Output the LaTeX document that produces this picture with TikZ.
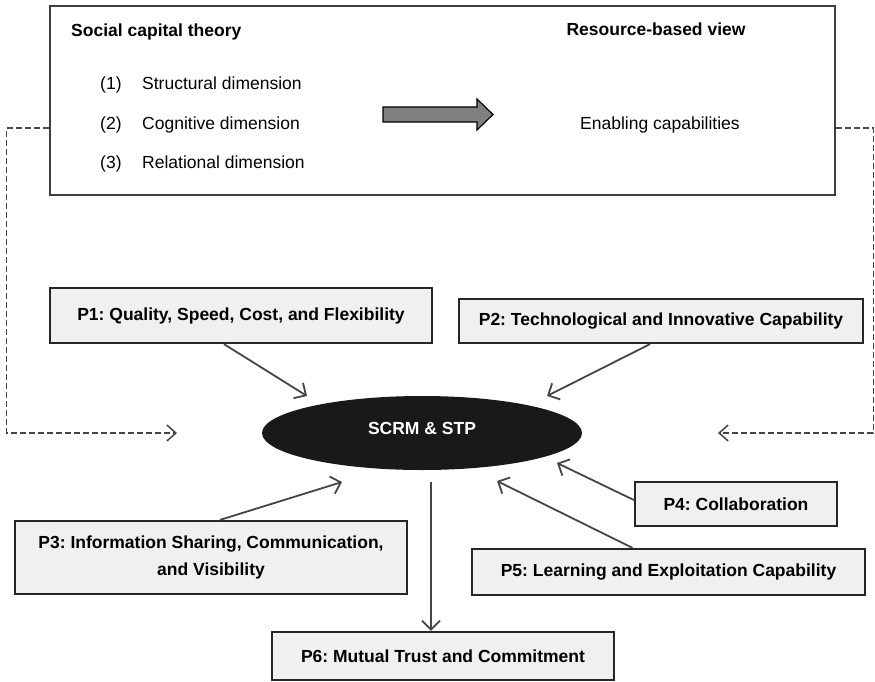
\documentclass[tikz,border=0pt]{standalone}
\usepackage{fontspec}
\setmainfont{Liberation Sans}
\usetikzlibrary{positioning,arrows.meta,shapes.geometric}
\definecolor{ink}{HTML}{454545}
\definecolor{pale}{HTML}{F0F0F0}
\definecolor{mid}{HTML}{808080}
\frenchspacing

\begin{document}
\begin{tikzpicture}[x=1pt,y=-1pt,
 font=\fontsize{17.5}{26.5}\selectfont,
 txt/.style={inner sep=0pt,anchor=base west},
 prop/.style={draw=black!85,line width=2.2pt,fill=pale,align=center,inner sep=0pt,
 font=\fontsize{17.5}{26.5}\selectfont\bfseries},
 arr/.style={-{Straight Barb[length=9pt,width=18pt]},line width=1.8pt,draw=ink},
 feed/.style={-{Straight Barb[length=9pt,width=16pt]},line width=1.5pt,draw=ink,
 dash pattern=on 6pt off 3pt}]
\useasboundingbox (0,0) rectangle (875,682);
% theory frame
\node[draw=black!75,line width=2.6pt,minimum width=785,minimum height=189,inner sep=0pt] (theory) at (442.5,100.5) {};
\node[txt,font=\fontsize{17.5}{21}\selectfont\bfseries] (sct) at (71,37) {Social capital theory};
\node[inner sep=0pt,anchor=base,font=\fontsize{17.5}{21}\selectfont\bfseries] (rbv) at (656,36) {Resource-based view};
\foreach \d [count=\i] in {Structural,Cognitive,Relational}{
 \node[txt] (num\i) at (100,51+39*\i) {(\i)};
 \node[txt] (dim\i) at (142,51+39*\i) {\d\ dimension};
}
\node[inner sep=0pt,anchor=base] (enable) at (660,130) {Enabling capabilities};
\draw[fill=mid,draw=black,line width=1.2pt] (383,107) -- ++(94,0) -- ++(0,-8) -- ++(16,15.5)
 -- ++(-16,15.5) -- ++(0,-8) -- ++(-94,0) -- cycle;
% propositions round the hub
\node[ellipse,fill=black!90,minimum width=320,minimum height=74,inner sep=0pt,text=white,
 font=\fontsize{17.5}{21}\selectfont\bfseries] (hub) at (422,433) {\raisebox{5pt}[\height][\depth]{SCRM \& STP}};
\node[prop,minimum width=382,minimum height=55] (p1) at (241,315.5) {P1: Quality, Speed, Cost, and Flexibility};
\node[prop,minimum width=404,minimum height=44] (p2) at (661,321) {P2: Technological and Innovative Capability};
\node[prop,minimum width=392,minimum height=73] (p3) at (211,557.5) {P3: Information Sharing, Communication,\\and Visibility};
\node[prop,minimum width=202,minimum height=44] (p4) at (736,504) {P4: Collaboration};
\node[prop,minimum width=393,minimum height=46] (p5) at (668.5,572) {P5: Learning and Exploitation Capability};
\node[prop,minimum width=342,minimum height=48] (p6) at (443,656) {P6: Mutual Trust and Commitment};
\draw[arr] ([xshift=-17pt]p1.south) -- ([shift={(-115,-37)}]hub.center);
\draw[arr] ([xshift=-11pt]p2.south) -- ([shift={(125,-37)}]hub.center);
\draw[arr] ([xshift=9pt]p3.north) -- ([shift={(-80,49)}]hub.center);
\draw[arr] ([yshift=4pt]p4.west) -- ([shift={(135,30)}]hub.center);
\draw[arr] ([xshift=-36pt]p5.north) -- ([shift={(75,48)}]hub.center);
\coordinate (out) at ([shift={(9,49)}]hub.center);
\draw[arr] (out) -- (out |- p6.north);
% feedback to the hub
\coordinate (lin) at (177,433);
\coordinate (rin) at (718,433);
\draw[feed] ([yshift=-27.5pt]theory.west) -- ++(-42,0) |- (lin);
\draw[feed] ([yshift=-27.5pt]theory.east) -- ++(37,0) |- (rin);
\end{tikzpicture}
\end{document}
